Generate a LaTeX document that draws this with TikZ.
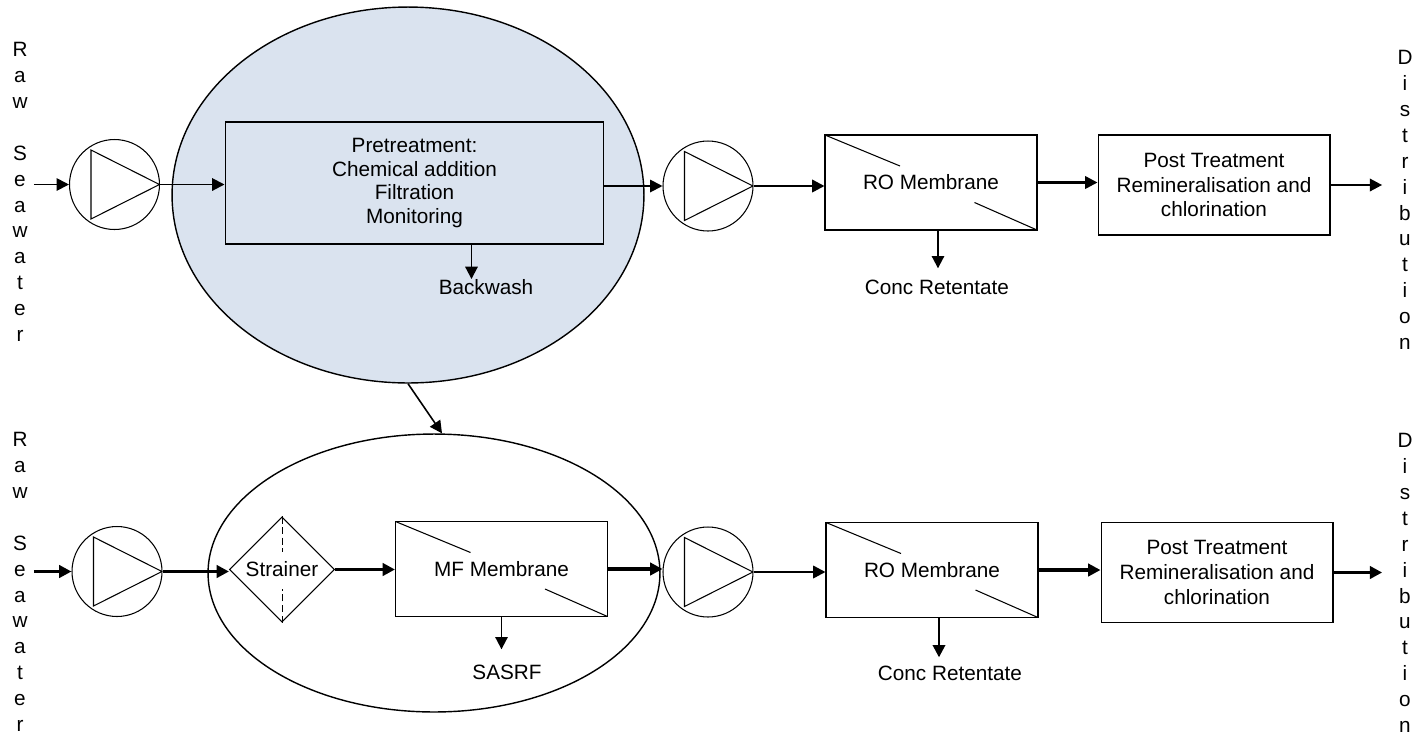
\documentclass[tikz,border=0pt]{standalone}
\usepackage{fontspec}
\setmainfont{Liberation Sans}
\usetikzlibrary{arrows.meta,shapes.geometric}
\definecolor{pretreatblue}{RGB}{218,227,239}

\begin{document}
\begin{tikzpicture}[
  x=0.02cm, y=-0.02cm,
  font=\fontsize{11.8}{13.6}\selectfont,
  zone/.style={draw, ellipse, line width=0.8pt, inner sep=0pt},
  box/.style={draw, line width=0.6pt, align=center, inner sep=2pt},
  membrane/.style={box, minimum width=4.24cm, minimum height=1.9cm, path picture={
      \draw (path picture bounding box.north west) -- ++(1.5cm,-0.62cm);
      \draw (path picture bounding box.south east) -- ++(-1.25cm,0.55cm);}},
  posttreat/.style={box, minimum width=4.64cm, minimum height=2cm, font=\fontsize{11.8}{14.2}\selectfont},
  pump/.style={draw, circle, line width=0.6pt, minimum size=1.8cm, inner sep=0pt, path picture={
      \draw ([xshift=-0.47cm,yshift=0.69cm]path picture bounding box.center) -- ++(0,-1.38cm)
        -- (path picture bounding box.east) -- cycle;}},
  strainer/.style={draw, diamond, line width=0.6pt, minimum width=2.1cm, minimum height=2.1cm, inner sep=0pt},
  vtext/.style={align=center, inner sep=0pt, font=\fontsize{11.8}{14.74}\selectfont},
  outlet/.style={inner sep=0pt},
  arrow/.style={-{Triangle[length=7pt,width=7pt]}, line width=1.1pt},
  thickarrow/.style={arrow, line width=1.9pt}
]
\useasboundingbox (0,0) rectangle (1418,735);

% upper line: conventional pretreatment
\node[zone, fill=pretreatblue, minimum width=9.44cm, minimum height=7.52cm] (zoneA) at (408,195) {};
\node[vtext] (rawA) at (20,192) {R\\a\\w\\[14.74pt]S\\e\\a\\w\\a\\t\\e\\r};
\node[pump] (pumpA) at (114.5,184.5) {};
\node[box, minimum width=7.58cm, minimum height=2.44cm] (pretreat) at (414.5,183)
  {Pretreatment:\\Chemical addition\\Filtration\\Monitoring};
\node[outlet] (backwash) at (486,287) {Backwash};
\node[pump] (pumpB) at (708,186) {};
\node[membrane] (roA) at (931,182.5) {RO Membrane};
\node[outlet] (concA) at (937,287) {Conc Retentate};
\node[posttreat] (postA) at (1214,185) {Post Treatment\\Remineralisation and\\chlorination};
\node[vtext] (distA) at (1405,200) {D\\i\\s\\t\\r\\i\\b\\u\\t\\i\\o\\n};

\draw[arrow, shorten <=0.12cm] (rawA.east |- pumpA.west) -- (pumpA.west);
\draw[arrow] (pumpA.east) -- (pumpA.east -| pretreat.west);
\draw[arrow] ([xshift=1.14cm]pretreat.south) -- ([xshift=1.14cm]pretreat.south |- backwash.north);
\draw[arrow] (pretreat.east |- pumpB.west) -- (pumpB.west);
\draw[arrow, line width=1.4pt] (pumpB.east) -- (pumpB.east -| roA.west);
\draw[arrow, shorten >=0.22cm] ([xshift=0.14cm]roA.south) -- ([xshift=0.14cm]roA.south |- concA.north);
\draw[arrow, line width=1.4pt] (roA.east) -- (roA.east -| postA.west);
\draw[arrow, line width=1.4pt, shorten >=0.3cm] (postA.east) -- (postA.east -| distA.west);

% lower line: strainer and MF membrane
\node[zone, minimum width=9.04cm, minimum height=5.56cm] (zoneB) at (434,573) {};
\draw[arrow, line width=0.9pt] (zoneA.south) -- ([xshift=0.16cm]zoneB.north);

\node[vtext] (rawB) at (20,582) {R\\a\\w\\[14.74pt]S\\e\\a\\w\\a\\t\\e\\r};
\node[pump] (pumpC) at (117,571.5) {};
\node[strainer] (strain) at (282,569.5) {Strainer};
\draw[dashed, dash pattern=on 4pt off 2pt] (strain.north) -- ++(0,36);
\draw[dashed, dash pattern=on 4pt off 2pt] (strain.south) -- ++(0,-34);
\node[membrane] (mf) at (501.5,569) {MF Membrane};
\node[outlet] (sasrf) at (507,672) {SASRF};
\node[pump] (pumpD) at (708,572) {};
\node[membrane] (roB) at (932,570) {RO Membrane};
\node[outlet] (concB) at (950,673) {Conc Retentate};
\node[posttreat] (postB) at (1217,572.5) {Post Treatment\\Remineralisation and\\chlorination};
\node[vtext] (distB) at (1405,583) {D\\i\\s\\t\\r\\i\\b\\u\\t\\i\\o\\n};

\draw[thickarrow, shorten <=0.12cm] (rawB.east |- pumpC.west) -- (pumpC.west);
\draw[thickarrow] (pumpC.east) -- (pumpC.east -| strain.west);
\draw[thickarrow] (strain.east) -- (strain.east -| mf.west);
\draw[arrow, shorten >=0.3cm] (mf.south) -- (mf.south |- sasrf.north);
\draw[thickarrow] (mf.east) -- (mf.east -| pumpD.west);
\draw[arrow, line width=1.4pt] (pumpD.east) -- (pumpD.east -| roB.west);
\draw[arrow, line width=1.4pt, shorten >=0.16cm] ([xshift=0.14cm]roB.south) -- ([xshift=0.14cm]roB.south |- concB.north);
\draw[thickarrow] (roB.east) -- (roB.east -| postB.west);
\draw[thickarrow, shorten >=0.3cm] (postB.east) -- (postB.east -| distB.west);
\end{tikzpicture}
\end{document}
